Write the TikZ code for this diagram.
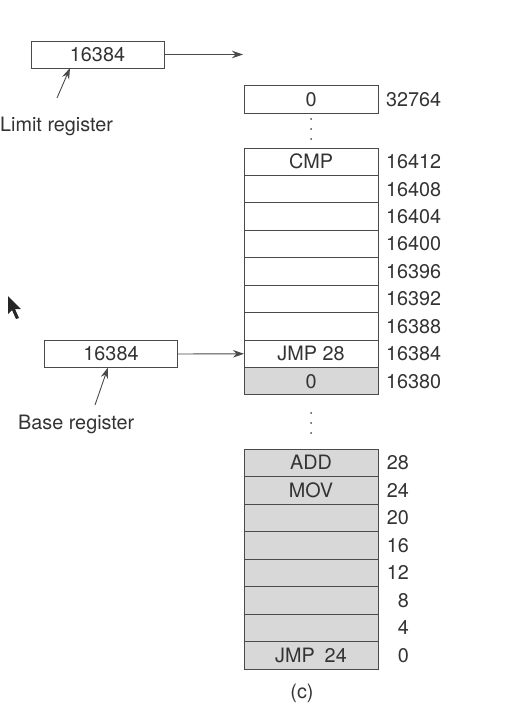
\documentclass[tikz,border=0pt]{standalone}
\usepackage{fontspec}
\setmainfont{TeX Gyre Heros}
\usetikzlibrary{arrows.meta}
\definecolor{ln}{HTML}{4A4A4A}
\definecolor{tx}{HTML}{333333}
\definecolor{gr}{HTML}{D8D8D8}
\tikzset{
  cell/.style={draw=ln, line width=0.9pt, minimum width=134pt, minimum height=27.4pt, inner sep=0pt, outer sep=0pt, text=tx, font=\fontsize{19.8}{23}\selectfont},
  gcell/.style={cell, fill=gr},
  reg/.style={draw=ln, line width=0.9pt, minimum width=133pt, minimum height=27pt, inner sep=0pt, outer sep=0pt, text=tx, font=\fontsize{19.8}{23}\selectfont},
  addr/.style={text=tx, inner sep=0pt, font=\fontsize{19.8}{23}\selectfont},
  lbl/.style={text=tx, inner sep=0pt, font=\fontsize{19.8}{23}\selectfont},
  arr/.style={draw=ln, line width=0.9pt, -{Stealth[length=11pt,width=7.5pt]}},
  dot/.style={fill=ln, draw=none, circle, minimum size=2pt, inner sep=0pt}
}
\begin{document}
\begin{tikzpicture}[x=1pt,y=-1pt]
\useasboundingbox (0,0) rectangle (524,714);
% top cell
\node[cell] (top) at (311,99.5) {0};
\node[addr, anchor=west] (atop) at (386,99.5) {32764};
\node[dot] (d1) at (311,119) {};
\node[dot] (d2) at (311,129) {};
\node[dot] (d3) at (311,139) {};
% upper block
\foreach \i/\t/\a in {0/CMP/16412,1//16408,2//16404,3//16400,4//16396,5//16392,6//16388,7/JMP 28/16384}{
  \node[cell] (u\i) at (311,{161.7+\i*27.44}) {\t};
  \node[addr, anchor=west] (ua\i) at (386,{161.7+\i*27.44}) {\a};
}
\node[gcell] (u8) at (311,{161.7+8*27.44}) {0};
\node[addr, anchor=west] (ua8) at (386,{161.7+8*27.44}) {16380};
\node[dot] (d4) at (311,413) {};
\node[dot] (d5) at (311,423) {};
\node[dot] (d6) at (311,433) {};
% lower block
\foreach \i/\t/\a in {0/ADD/28,1/MOV/24,2//20,3//16,4//12,5//8,6//4,7/JMP\enspace24/0}{
  \node[gcell] (l\i) at (311,{462.75+\i*27.5}) {\t};
  \node[addr, anchor=east] (la\i) at (409,{462.75+\i*27.5}) {\a};
}
% registers
\node[reg] (limit) at (97.5,54.5) {16384};
\coordinate (limend) at (243,54.5);
\draw[arr] (limit.east) -- (limend);
\node[lbl, anchor=west] (limlbl) at (0,126.5) {Limit register};
\draw[arr] (57,98) -- (limit.south -| 70,0);
\node[lbl, anchor=west] (baselbl) at (18,424.5) {Base register};
\node[reg] (base) at (111,354) {16384};
\draw[arr] (base.east) -- (u7.west);
\draw[arr] (95,405) -- (base.south -| 108,0);
\node[lbl] (cap) at (302,693) {(c)};
% mouse cursor
\fill[black!85] (8,296) -- (8,314) -- (12,310) -- (16,319) -- (19,318) -- (15,309) -- (21,309) -- cycle;
\end{tikzpicture}
\end{document}
